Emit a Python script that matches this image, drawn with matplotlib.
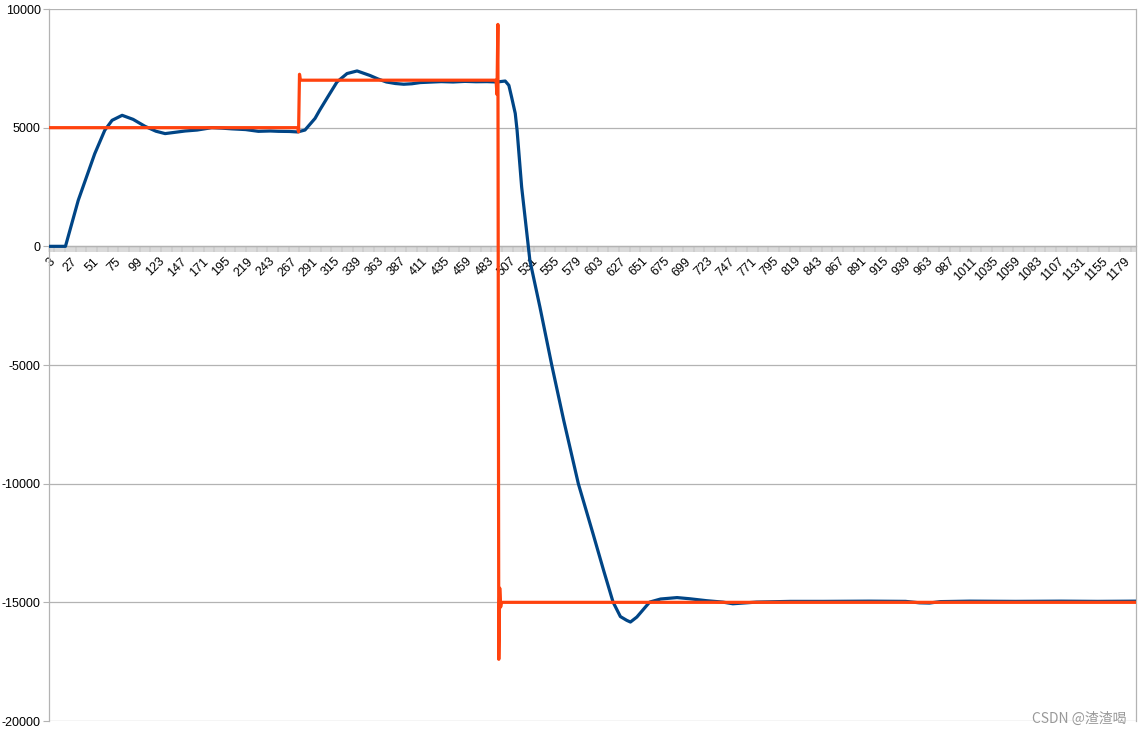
import numpy as np
import matplotlib
matplotlib.use("Agg")
import matplotlib.pyplot as plt
from matplotlib.ticker import FixedLocator, MultipleLocator

plt.rcParams['font.family'] = ['Liberation Sans', 'DejaVu Sans']

# measured speed (blue), sample index -> value
blue_x = [3, 21, 35, 53, 64, 72, 83, 95, 108, 120, 130, 140, 152, 165, 181, 192, 203, 218,
          232, 245, 254, 266, 275, 283, 294, 299, 308, 318, 329, 340, 354, 363, 372, 382,
          391, 400, 409, 420, 432, 445, 458, 470, 482, 493, 502, 506, 509, 513, 515, 520,
          529, 540, 553, 566, 582, 598, 610, 620, 628, 635, 639, 646, 660, 672, 690, 704,
          722, 740, 751, 777, 814, 850, 900, 940, 955, 966, 978, 1010, 1060, 1110, 1150, 1192]
blue_y = [0, 0, 1940, 3900, 4890, 5310, 5520, 5350, 5057, 4850, 4750, 4800, 4860, 4900, 5000,
          4980, 4950, 4920, 4846, 4860, 4846, 4840, 4820, 4900, 5390, 5730, 6300, 6925, 7280,
          7390, 7200, 7050, 6925, 6860, 6830, 6850, 6900, 6920, 6940, 6925, 6950, 6935, 6940,
          6925, 6965, 6785, 6290, 5600, 4890, 2500, -590, -2560, -5015, -7330, -10000, -12100,
          -13700, -14990, -15600, -15760, -15830, -15620, -14990, -14860, -14800, -14850, -14930,
          -14990, -15060, -14990, -14960, -14960, -14950, -14960, -15020, -15030, -14970, -14950,
          -14960, -14950, -14960, -14950]

# set point (orange)
set_x = [3, 275, 276, 277, 278, 491, 492, 493, 494, 495, 496, 497, 498, 1192]
set_y = [5000, 5000, 4820, 7250, 7000, 7000, 7000, 6400, 9350, -17400, -14400, -15200, -15000, -15000]

x_labels = list(range(3, 1192, 24))
y_ticks = [-20000, -15000, -10000, -5000, 0, 5000, 10000]

fig = plt.figure(figsize=(11.42, 7.36), dpi=100)
ax = fig.add_axes([49/1142, 15/736, 1087/1142, 712/736])

grid_c = '#b3b3b3'
for v in y_ticks:
    ax.axhline(v, color=grid_c, lw=0.9, zorder=0)

ax.plot(blue_x, blue_y, color='#004586', lw=2.3, zorder=3, solid_joinstyle='round')
ax.plot(set_x, set_y, color='#ff420e', lw=2.3, zorder=4)

ax.set_xlim(3, 1192)
ax.set_ylim(-20000, 10000)

ax.spines['bottom'].set_position(('data', 0))
for s in ax.spines.values():
    s.set_color(grid_c)
    s.set_linewidth(0.9)
ax.spines['top'].set_visible(False)

ax.xaxis.set_major_locator(FixedLocator(x_labels))
ax.xaxis.set_minor_locator(MultipleLocator(1))
ax.set_xticklabels([str(v) for v in x_labels], rotation=45, ha='right', va='top',
                   rotation_mode='anchor', fontsize=9)
ax.tick_params(axis='x', which='both', direction='out', length=4.5, width=0.35,
               color='#aaaaaa', pad=2)
ax.set_yticks(y_ticks)
ax.set_yticklabels([str(v) for v in y_ticks], fontsize=9)
ax.tick_params(axis='y', direction='out', length=4, width=0.8, color=grid_c, pad=2)

fig.text(1127/1142, 1 - 719/736, 'CSDN @渣渣喝', ha='right', va='center', fontsize=10,
         color='#999999', family=['Noto Sans CJK SC', 'DejaVu Sans'])

fig.savefig('out.png', dpi=100)
